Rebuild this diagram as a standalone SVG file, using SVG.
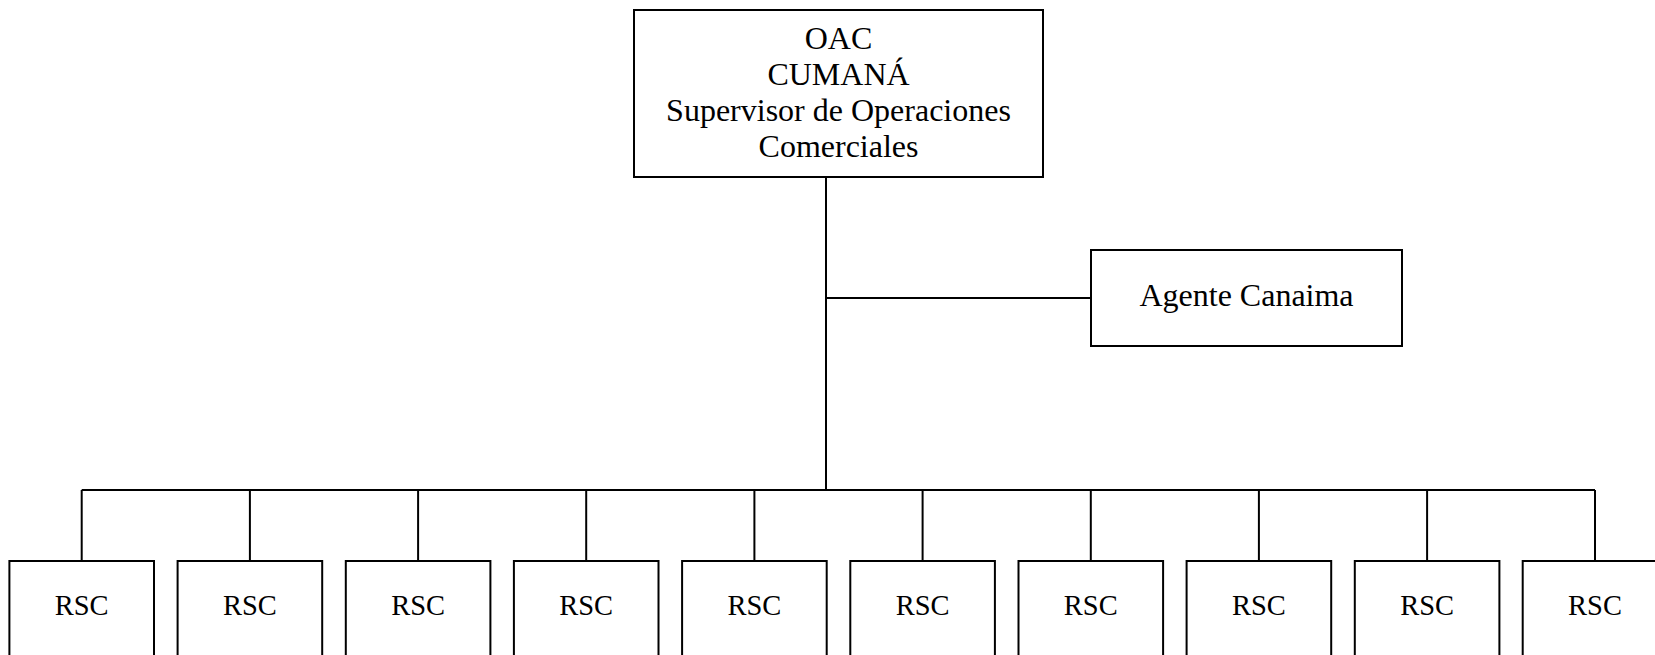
<svg xmlns="http://www.w3.org/2000/svg" width="1655" height="655" viewBox="0 0 1655 655">
<style>
.box{fill:#fff;stroke:#000;stroke-width:2}
line{stroke:#000;stroke-width:2;fill:none}
text{font-family:"Liberation Serif","Times New Roman",serif;font-size:32px;fill:#000;text-anchor:middle}
text.rsc{font-size:28.5px}
</style>
<rect width="1655" height="655" fill="#fff"/>
<g id="connectors">
<line x1="826" y1="177" x2="826" y2="490"/>
<line x1="826" y1="298" x2="1091" y2="298"/>
<line x1="81.7" y1="490" x2="1595" y2="490"/>
<line x1="81.7" y1="490" x2="81.7" y2="561"/>
<line x1="249.9" y1="490" x2="249.9" y2="561"/>
<line x1="418.1" y1="490" x2="418.1" y2="561"/>
<line x1="586.2" y1="490" x2="586.2" y2="561"/>
<line x1="754.4" y1="490" x2="754.4" y2="561"/>
<line x1="922.6" y1="490" x2="922.6" y2="561"/>
<line x1="1090.8" y1="490" x2="1090.8" y2="561"/>
<line x1="1258.9" y1="490" x2="1258.9" y2="561"/>
<line x1="1427.1" y1="490" x2="1427.1" y2="561"/>
<line x1="1595" y1="490" x2="1595" y2="561"/>
</g>
<g id="oac">
<rect class="box" x="634" y="10" width="409" height="167"/>
<text x="838.5" y="49">OAC</text>
<text x="838.5" y="85">CUMANÁ</text>
<text x="838.5" y="121">Supervisor de Operaciones</text>
<text x="838.5" y="157">Comerciales</text>
</g>
<g id="agente">
<rect class="box" x="1091" y="250" width="311" height="96"/>
<text x="1246.5" y="306">Agente Canaima</text>
</g>
<g id="rsc1"><rect class="box" x="9.4" y="561" width="144.6" height="140"/><text class="rsc" x="81.7" y="615">RSC</text></g>
<g id="rsc2"><rect class="box" x="177.6" y="561" width="144.6" height="140"/><text class="rsc" x="249.9" y="615">RSC</text></g>
<g id="rsc3"><rect class="box" x="345.8" y="561" width="144.6" height="140"/><text class="rsc" x="418.1" y="615">RSC</text></g>
<g id="rsc4"><rect class="box" x="513.9" y="561" width="144.6" height="140"/><text class="rsc" x="586.2" y="615">RSC</text></g>
<g id="rsc5"><rect class="box" x="682.1" y="561" width="144.6" height="140"/><text class="rsc" x="754.4" y="615">RSC</text></g>
<g id="rsc6"><rect class="box" x="850.3" y="561" width="144.6" height="140"/><text class="rsc" x="922.6" y="615">RSC</text></g>
<g id="rsc7"><rect class="box" x="1018.5" y="561" width="144.6" height="140"/><text class="rsc" x="1090.8" y="615">RSC</text></g>
<g id="rsc8"><rect class="box" x="1186.6" y="561" width="144.6" height="140"/><text class="rsc" x="1258.9" y="615">RSC</text></g>
<g id="rsc9"><rect class="box" x="1354.8" y="561" width="144.6" height="140"/><text class="rsc" x="1427.1" y="615">RSC</text></g>
<g id="rsc10"><rect class="box" x="1522.7" y="561" width="144.6" height="140"/><text class="rsc" x="1595" y="615">RSC</text></g>
</svg>
